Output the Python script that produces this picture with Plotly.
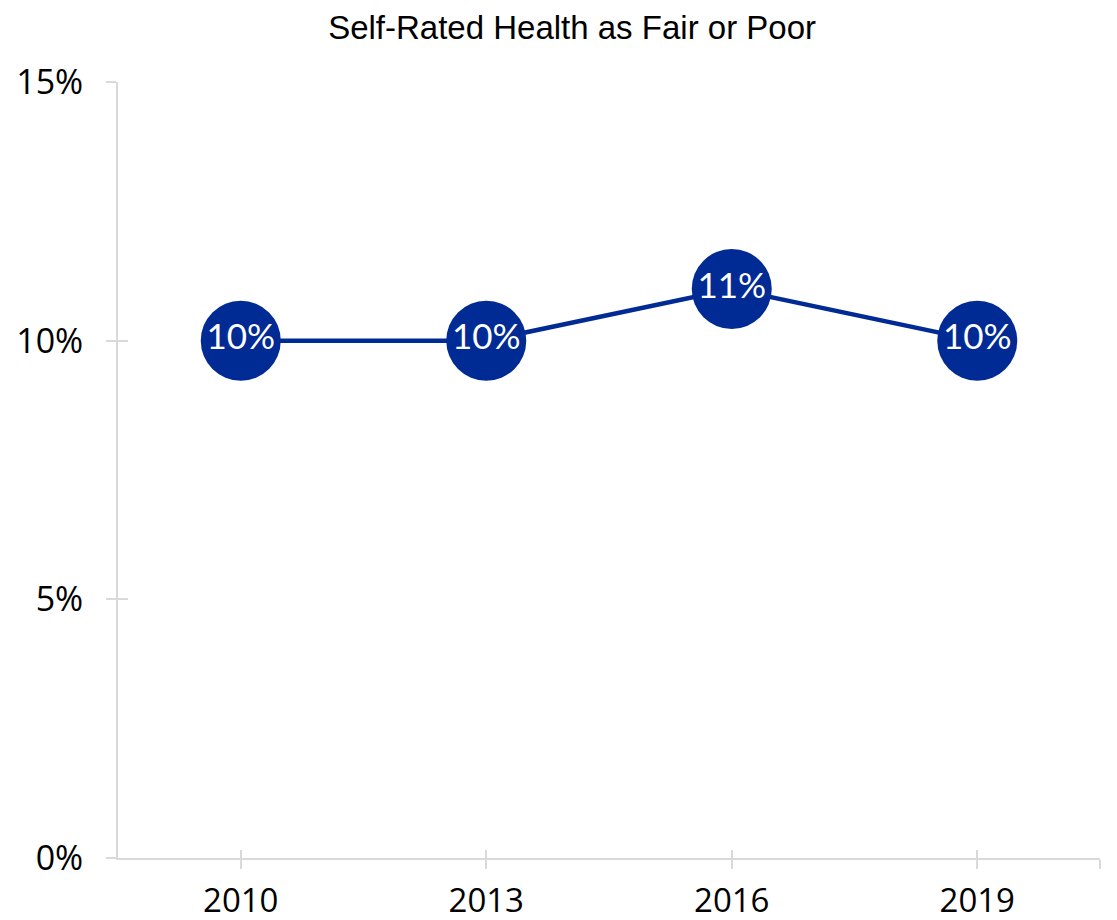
import plotly.graph_objects as go

years = ["2010", "2013", "2016", "2019"]
pct = [10, 10, 11, 10]
labels = ["10%", "10%", "11%", "10%"]
y_ticks = [0, 5, 10, 15]
y_tick_text = ["0%", "5%", "10%", "15%"]

navy = "#002a94"
axis_grey = "#d9d9d9"

xpos = list(range(len(years)))

fig = go.Figure()
fig.add_trace(go.Scatter(
    x=xpos, y=pct,
    mode="lines+markers+text",
    text=labels,
    textposition="middle center",
    textfont=dict(family="Lato", size=35, color="white"),
    line=dict(color=navy, width=4.5),
    marker=dict(size=80, color=navy),
    cliponaxis=False,
    hoverinfo="skip",
))

# invisible trace on the overlay axes so the inner half of each tick is drawn
fig.add_trace(go.Scatter(x=xpos, y=pct, xaxis="x2", yaxis="y2", mode="markers",
                         marker=dict(opacity=0), hoverinfo="skip", showlegend=False))

xticks = xpos + [len(years) - 0.5]
xtext = years + [""]

tick_font = dict(family="Open Sans", size=34, color="black")
xtick_font = dict(family="Open Sans", size=33, color="black")

fig.update_layout(
    width=1117, height=920,
    paper_bgcolor="white", plot_bgcolor="white",
    margin=dict(l=110, r=25, t=74, b=70),
    showlegend=False,
    title=dict(text="Self-Rated Health as Fair or Poor", x=0.505, xanchor="center",
               y=0.979, yanchor="middle",
               font=dict(family="Liberation Sans", size=33, color="black")),
    xaxis=dict(range=[-0.5, 3.5], tickmode="array", tickvals=xticks, ticktext=xtext,
               automargin=False,
               showgrid=False, zeroline=False, showline=True, linecolor=axis_grey, linewidth=2,
               ticks="outside", ticklen=9, tickwidth=2, tickcolor=axis_grey,
               ticklabelstandoff=3, tickfont=xtick_font),
    yaxis=dict(range=[0, 15], tickmode="array", tickvals=y_ticks, ticktext=y_tick_text,
               automargin=False,
               showgrid=False, zeroline=False, showline=True, linecolor=axis_grey, linewidth=2,
               ticks="outside", ticklen=10, tickwidth=2, tickcolor=axis_grey,
               ticklabelstandoff=16, tickfont=tick_font),
    xaxis2=dict(overlaying="x", matches="x", tickmode="array", tickvals=xticks,
                automargin=False,
                showticklabels=False, showgrid=False, zeroline=False, showline=False,
                ticks="inside", ticklen=8, tickwidth=2, tickcolor=axis_grey, side="bottom"),
    yaxis2=dict(overlaying="y", matches="y", tickmode="array", tickvals=y_ticks,
                automargin=False,
                showticklabels=False, showgrid=False, zeroline=False, showline=False,
                ticks="inside", ticklen=10, tickwidth=2, tickcolor=axis_grey, side="left"),
)

fig.write_html("out.html")
